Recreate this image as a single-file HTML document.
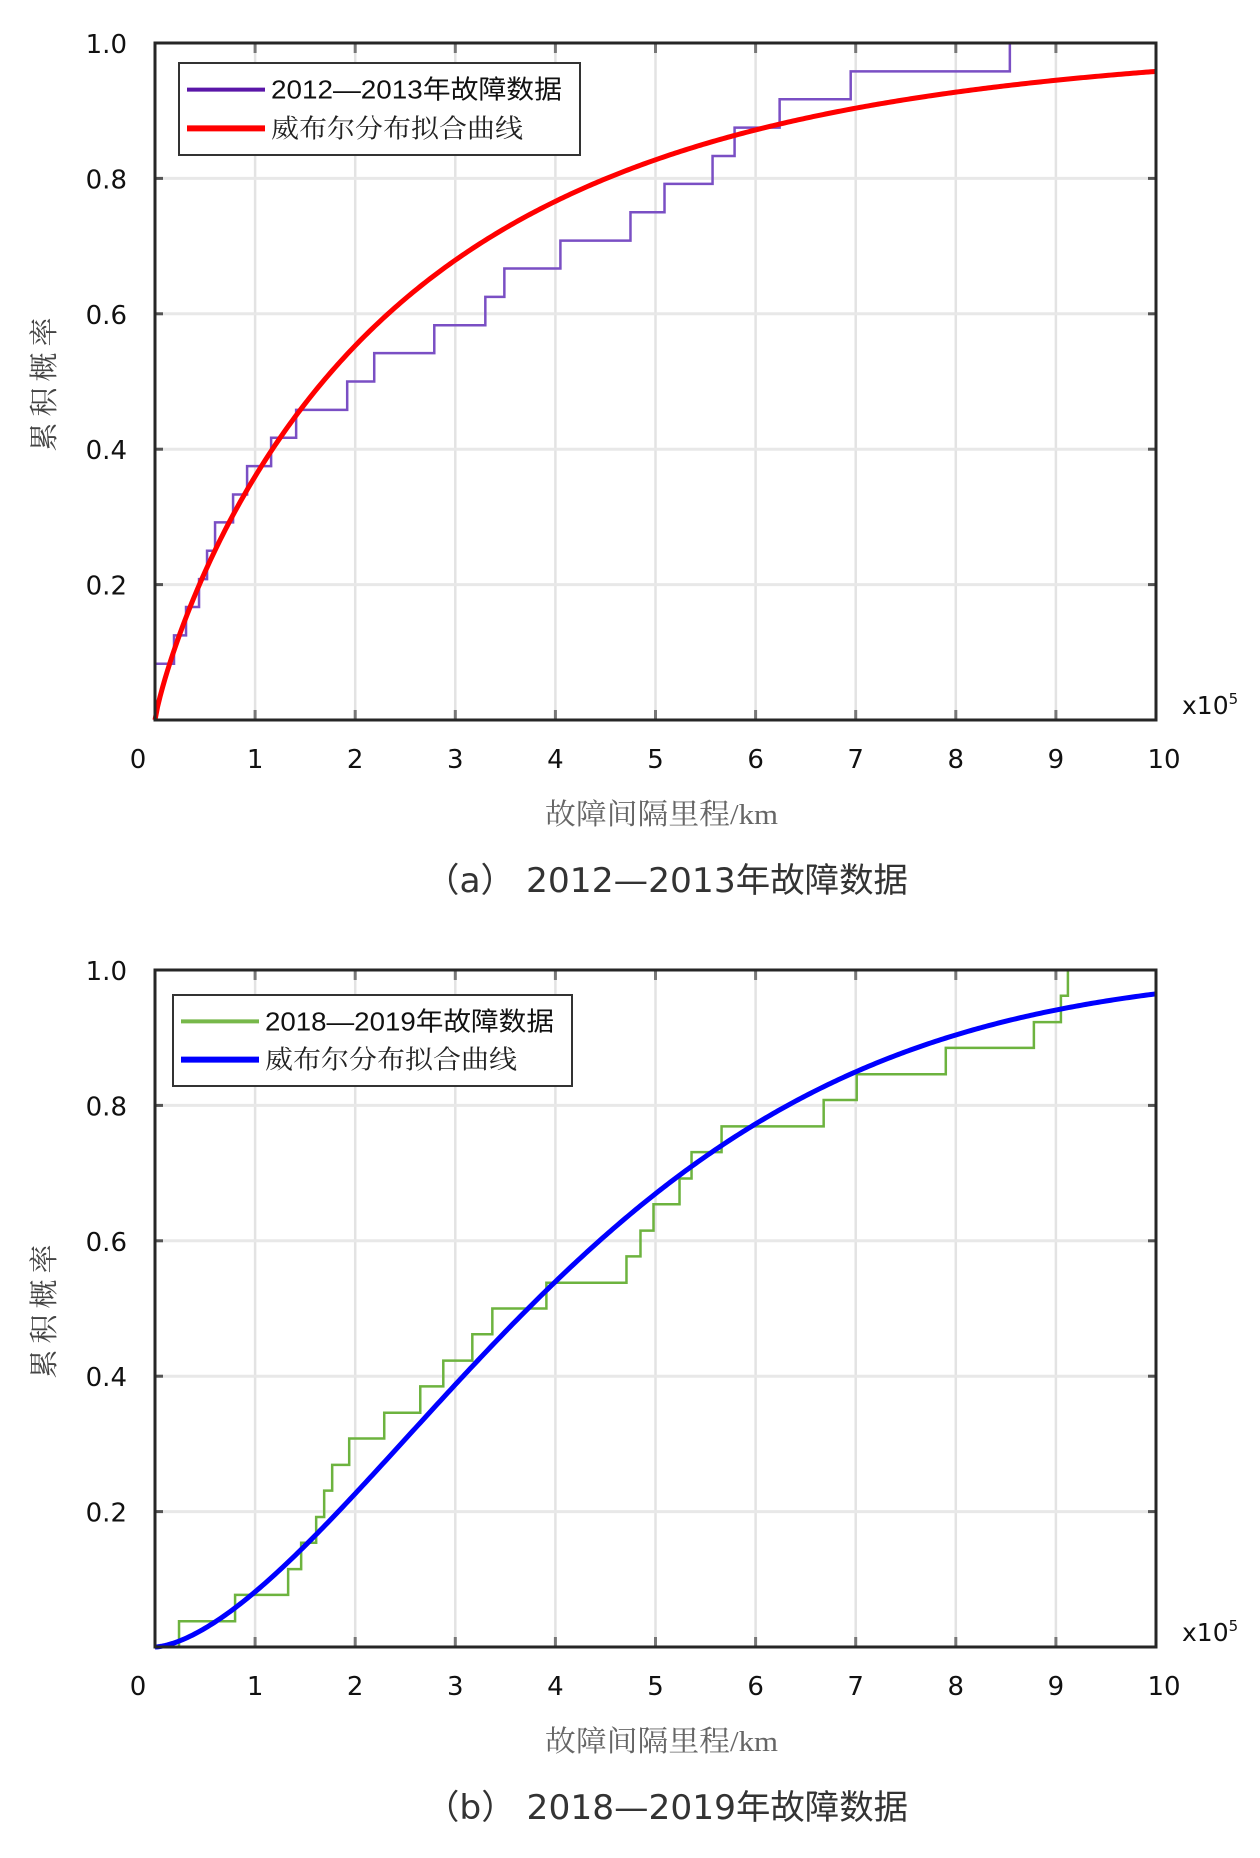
<!DOCTYPE html>
<html><head><meta charset="utf-8"><style>
html,body{margin:0;padding:0;background:#fff;}
svg{display:block;}
</style></head><body>
<svg id="fig" xmlns="http://www.w3.org/2000/svg" width="1260" height="1858" viewBox="0 0 1260 1858"></svg>
<script>
// ---- Chart A data (x in 1e5 km) ----
const xTicks = [0,1,2,3,4,5,6,7,8,9,10];
const xTickLabels = ["0","1","2","3","4","5","6","7","8","9","10"];
const yTicks = [0.2,0.4,0.6,0.8,1.0];
const yTickLabels = ["0.2","0.4","0.6","0.8","1.0"];
const stepXA = [0,0.19,0.31,0.44,0.52,0.60,0.78,0.92,1.16,1.41,1.92,2.19,2.79,3.30,3.49,4.05,4.75,5.09,5.57,5.79,6.24,6.95,8.54];
const stepYA = [0.083,0.125,0.167,0.208,0.25,0.292,0.333,0.375,0.417,0.458,0.5,0.542,0.583,0.625,0.667,0.708,0.75,0.792,0.833,0.875,0.917,0.958,1.0];
const weibullA = [0.852, 2.58]; // shape, scale
// ---- Chart B data ----
const stepXB = [0.24,0.80,1.33,1.46,1.61,1.69,1.77,1.94,2.29,2.65,2.88,3.17,3.37,3.91,4.71,4.85,4.98,5.24,5.36,5.66,6.68,7.01,7.90,8.78,9.05,9.12];
const stepYB = [0.038,0.077,0.115,0.154,0.192,0.231,0.269,0.308,0.346,0.385,0.423,0.462,0.5,0.538,0.577,0.615,0.654,0.692,0.731,0.769,0.808,0.846,0.885,0.923,0.962,1.0];
const weibullB = [1.595, 4.69];

const NS="http://www.w3.org/2000/svg";
const svg=document.getElementById('fig');
function mk(tag,attrs,parent){const e=document.createElementNS(NS,tag);for(const k in attrs)e.setAttribute(k,attrs[k]);(parent||svg).appendChild(e);return e;}

function drawChart(cfg){
  const L=155,R=1156,T=cfg.top,B=cfg.bottom;
  const sx=v=>L+(v/10)*(R-L);
  const sy=v=>B-v*(B-T);
  const g=mk('g',{});
  
  
  xTicks.forEach(t=>{if(t>0&&t<10){const l=mk('line',{x1:sx(t),x2:sx(t),y1:T,y2:B,stroke:'#e3e3e3','stroke-width':2.5},g);
    }});
  yTicks.forEach(t=>{if(t<1){const l=mk('line',{x1:L,x2:R,y1:sy(t),y2:sy(t),stroke:'#e8e8e8','stroke-width':3},g);
    }});
  xTicks.forEach(t=>{if(t>0&&t<10){mk('line',{x1:sx(t),x2:sx(t),y1:B,y2:B-10,stroke:'#777','stroke-width':3},g);mk('line',{x1:sx(t),x2:sx(t),y1:T,y2:T+10,stroke:'#777','stroke-width':3},g);}});
  yTicks.forEach(t=>{if(t<1){mk('line',{x1:L,x2:L+8,y1:sy(t),y2:sy(t),stroke:'#555','stroke-width':3},g);mk('line',{x1:R,x2:R-8,y1:sy(t),y2:sy(t),stroke:'#555','stroke-width':3},g);}});
  let d='M'+sx(cfg.stepX[0])+','+sy(0);
  for(let i=0;i<cfg.stepX.length;i++){
    d+=' L'+sx(cfg.stepX[i])+','+sy(cfg.stepY[i]);
    if(i+1<cfg.stepX.length)d+=' L'+sx(cfg.stepX[i+1])+','+sy(cfg.stepY[i]);
  }
  const sp=mk('path',{d:d,fill:'none',stroke:cfg.stepColor,'stroke-width':2.5},g);
  
  
  const k=cfg.weibull[0],lam=cfg.weibull[1];
  let cd='';
  for(let i=0;i<=400;i++){const x=i*10/400;const y=1-Math.exp(-Math.pow(x/lam,k));cd+=(i?' L':'M')+sx(x).toFixed(2)+','+sy(y).toFixed(2);}
  const cp=mk('path',{d:cd,fill:'none',stroke:cfg.fitColor,'stroke-width':5,'stroke-linejoin':'round'},g);
  
  
  const fr=mk('rect',{x:L,y:T,width:R-L,height:B-T,fill:'none',stroke:'#262626','stroke-width':3},g);
  
  xTicks.forEach((t,i)=>{let x=sx(t);if(t===0)x=138;if(t===10)x=1164;
    const tx=mk('text',{x:x,y:B+48,'text-anchor':'middle','font-family':'"DejaVu Sans","Liberation Sans",sans-serif','font-size':26,fill:'#111'},g);
    tx.textContent=xTickLabels[i];});
  yTicks.forEach((t,i)=>{const tx=mk('text',{x:127,y:sy(t)+10,'text-anchor':'end','font-family':'"DejaVu Sans","Liberation Sans",sans-serif','font-size':26,fill:'#111'},g);
    tx.textContent=yTickLabels[i];});
  const ex=mk('text',{x:1182,y:B-6,'font-family':'"DejaVu Sans","Liberation Sans",sans-serif','font-size':25,fill:'#111'},g);
  
  ex.innerHTML='x10<tspan dy="-10" font-size="15">5</tspan>';
  const xt=mk('text',{x:545,y:B+104,'font-family':'"Liberation Serif","Noto Serif CJK SC",serif','font-size':29,fill:'#666',textLength:233,lengthAdjust:'spacingAndGlyphs'},g);
  xt.textContent='故障间隔里程/km';
  const cy=(T+B)/2;
  const yt=mk('text',{x:0,y:0,transform:'translate(54,'+cy+') rotate(-90)','text-anchor':'middle','font-family':'"Liberation Serif","Noto Serif CJK SC",serif','font-size':29,fill:'#444','letter-spacing':6},g);
  yt.textContent='累积概率';
  const cap=mk('text',{x:425,y:B+172,'font-family':'"DejaVu Sans","Noto Sans CJK SC",sans-serif','font-size':34,fill:'#333',textLength:483,lengthAdjust:'spacingAndGlyphs'},g);
  cap.textContent=cfg.caption;
  const lg=mk('g',{},g);
  
  const lb=cfg.legendBox;
  mk('rect',{x:lb[0],y:lb[1],width:lb[2],height:lb[3],fill:'#fff',stroke:'#333','stroke-width':2},lg);
  const r1=lb[1]+lb[3]*0.29,r2=lb[1]+lb[3]*0.71;
  const e1=mk('g',{},lg);
  mk('line',{x1:lb[0]+8,x2:lb[0]+86,y1:r1,y2:r1,stroke:cfg.legendStepColor,'stroke-width':4},e1);
  const t1=mk('text',{x:lb[0]+92,y:r1+9,'font-family':'"Liberation Sans","Noto Sans CJK SC",sans-serif','font-size':26,fill:'#111',textLength:lb[2]-110,lengthAdjust:'spacingAndGlyphs'},e1);
  t1.textContent=cfg.legend1;
  const e2=mk('g',{},lg);
  mk('line',{x1:lb[0]+8,x2:lb[0]+86,y1:r2,y2:r2,stroke:cfg.fitColor,'stroke-width':6},e2);
  const t2=mk('text',{x:lb[0]+92,y:r2+9,'font-family':'"Liberation Serif","Noto Serif CJK SC",serif','font-size':26,fill:'#222',textLength:252,lengthAdjust:'spacingAndGlyphs'},e2);
  t2.textContent='威布尔分布拟合曲线';
}

drawChart({id:'chart-a',top:43,bottom:720,stepX:stepXA,stepY:stepYA,weibull:weibullA,stepColor:'#7a4fc4',legendStepColor:'#5a16a8',fitColor:'#ff0000',
  caption:'（a） 2012—2013年故障数据',legend1:'2012—2013年故障数据',legendBox:[179,63,401,92]});
drawChart({id:'chart-b',top:970,bottom:1647,stepX:stepXB,stepY:stepYB,weibull:weibullB,stepColor:'#6db33f',legendStepColor:'#77b84a',fitColor:'#0000ff',
  caption:'（b） 2018—2019年故障数据',legend1:'2018—2019年故障数据',legendBox:[173,995,399,91]});
</script>
</body></html>
